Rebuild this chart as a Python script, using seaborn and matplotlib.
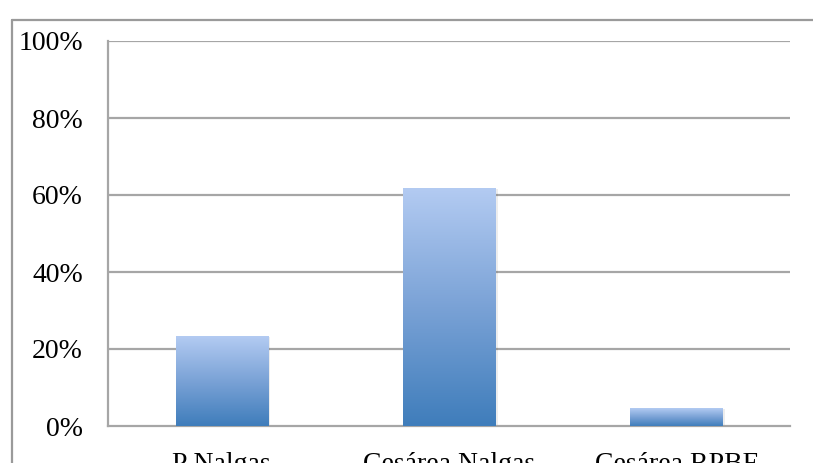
import numpy as np
import pandas as pd
import matplotlib
matplotlib.use("Agg")
import matplotlib.pyplot as plt
import matplotlib.colors as mcolors
from matplotlib.lines import Line2D
import seaborn as sns

categories = ["P Nalgas", "Cesárea Nalgas", "Cesárea RPBF"]
values = [23.3, 61.8, 4.6]
y_ticks = [0, 20, 40, 60, 80, 100]
y_tick_labels = ["0%", "20%", "40%", "60%", "80%", "100%"]

sns.set_theme(style="white")
plt.rcParams["font.family"] = ["Liberation Serif", "DejaVu Serif"]

W, H = 813, 463
fig = plt.figure(figsize=(W / 100, H / 100), dpi=100)
ax = fig.add_axes([108 / W, 1 - 426 / H, (790 - 108) / W, (426 - 41) / H])

df = pd.DataFrame({"cat": categories, "val": values})
sns.barplot(data=df, x="cat", y="val", ax=ax, width=0.405, color="#7aa3d8",
            zorder=3)

ax.set_xlim(-0.5, len(categories) - 0.5)
ax.set_ylim(0, 100)

# vertical gradient fill for each bar, light on top, deeper blue at the base
grad_cmap = mcolors.LinearSegmentedColormap.from_list(
    "barfill", ["#3f7dbb", "#7aa2d6", "#b3cbf2"])
grad = np.linspace(0, 1, 256).reshape(-1, 1)
for p in list(ax.patches):
    x0, y0 = p.get_x(), p.get_y()
    w, h = p.get_width(), p.get_height()
    # soft shadow to the right
    shadow = plt.Rectangle((x0 + 0.012, y0), w, h - 0.3, facecolor="#000000",
                           alpha=0.07, edgecolor="none", zorder=2)
    ax.add_patch(shadow)
    im = ax.imshow(grad, cmap=grad_cmap, origin="lower", aspect="auto",
                   extent=(x0, x0 + w, y0, y0 + h), zorder=4)
    im.set_clip_path(p)
    p.set_facecolor("none")
    p.set_edgecolor("none")

ax.set_xlim(-0.5, len(categories) - 0.5)
ax.set_ylim(0, 100)

# gridlines
grid_color = "#a6a6a6"
for t in y_ticks[1:]:
    ax.axhline(t, color=grid_color, lw=1.6, zorder=1)

for s in ["top", "right"]:
    ax.spines[s].set_visible(False)
for s in ["left", "bottom"]:
    ax.spines[s].set_color(grid_color)
    ax.spines[s].set_linewidth(1.6)

ax.set_yticks(y_ticks)
ax.set_yticklabels(y_tick_labels, fontsize=20, color="black")
ax.tick_params(axis="y", which="major", direction="out", length=6,
               width=1.6, color=grid_color, pad=12)

# category boundaries carry the x tick marks; labels sit at centers
ax.set_xticks(np.arange(-0.5, len(categories), 1.0))
ax.set_xticklabels([""] * (len(categories) + 1))
ax.tick_params(axis="x", which="major", direction="out", length=7,
               width=1.6, color=grid_color)
ax.set_xticks(np.arange(len(categories)), minor=True)
ax.set_xticklabels(categories, minor=True, fontsize=20, color="black")
ax.tick_params(axis="x", which="minor", length=0, pad=19)

ax.set_xlabel("")
ax.set_ylabel("")

# outer chart frame
fig.add_artist(Line2D([12 / W, 12 / W], [0, 1 - 20 / H], transform=fig.transFigure,
                      color="#9a9a9a", lw=1.6))
fig.add_artist(Line2D([12 / W, 1], [1 - 20 / H, 1 - 20 / H], transform=fig.transFigure,
                      color="#9a9a9a", lw=1.6))

fig.savefig("out.png", dpi=100)
